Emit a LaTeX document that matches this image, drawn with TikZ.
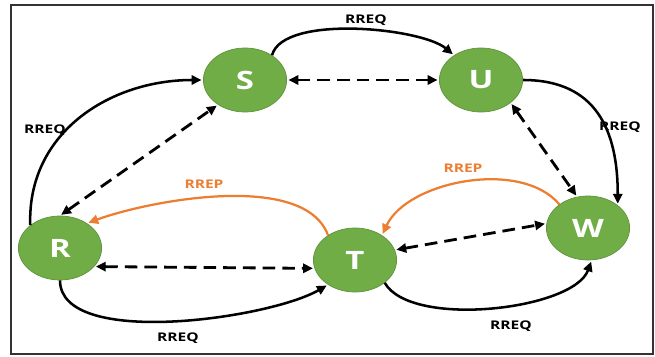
\documentclass[tikz,border=0pt]{standalone}
\usepackage{fontspec}
\setmainfont{Open Sans}
\usetikzlibrary{shapes.geometric, arrows.meta}

\definecolor{hostgreen}{HTML}{70AD47}
\definecolor{reporange}{HTML}{ED7D31}

\begin{document}
\begin{tikzpicture}[x=0.025cm, y=0.025cm,
    host/.style={circle, minimum size=1.6cm, inner sep=0pt, xscale=1.3,
        fill=hostgreen, draw=hostgreen!85!black, line width=0.5pt,
        text=white, font=\fontsize{18}{20}\selectfont\bfseries},
    msg/.style={inner sep=0pt, xscale=1.3, font=\fontsize{8.5}{10}\selectfont\bfseries},
    req/.style={line width=1.8pt, shorten >=1pt, -{Triangle[length=7pt,width=6.5pt]}},
    rep/.style={req, draw=reporange, -{Triangle[length=7pt,width=6.5pt]}, line width=1.6pt},
    link/.style={line width=2pt, dash pattern=on 9pt off 5pt, shorten >=1pt, shorten <=1pt,
        {Triangle[length=7pt,width=6.5pt]}-{Triangle[length=7pt,width=6.5pt]}}]
    \useasboundingbox (0,0) rectangle (655,356);

    % 1. Frame
    \draw[line width=1.2pt, black!80] (11,2) rectangle (653,351);

    % 2. Hosts
    \node[host] (S) at (245,276) {S};
    \node[host] (U) at (481,276) {U};
    \node[host] (R) at (60,108) {R};
    \node[host] (T) at (355,96) {T};
    \node[host] (W) at (588,128) {W};

    % 3. Route requests (solid)
    \draw[req] (R.135) to[out=92, in=180, looseness=1.05] (S.west);
    \draw[req] (S.50) to[out=75, in=140, looseness=0.6] (U.130);
    \draw[req] (U.east) to[out=0, in=90, looseness=1.2] (W.45);
    \draw[req] (R.south) to[out=-90, in=-150, looseness=0.65] (T.-130);
    \draw[req] (T.-45) to[out=-60, in=-110, looseness=0.65] (W.-85);

    % 4. Route replies (orange)
    \draw[rep] (T.130) to[out=110, in=20, looseness=0.72] (R.50);
    \draw[rep] (W.133) to[out=130, in=65, looseness=0.85] (T.50);

    % 5. Neighbour links (dashed, both ways)
    \draw[link] (S.east) -- (U.west);
    \draw[link] (R.north) -- (S.-130);
    \draw[link] (U.-45) -- (W.105);
    \draw[link] (R.-35) -- (T.195);
    \draw[link] (T.18) -- (W.172);

    % 6. Labels
    \node[msg] (q1) at (366,336) {RREQ};
    \node[msg] (q2) at (45,226) {RREQ};
    \node[msg] (q3) at (620,229) {RREQ};
    \node[msg] (q4) at (178,18) {RREQ};
    \node[msg] (q5) at (511,30) {RREQ};
    \node[msg, text=reporange] (p1) at (204,172) {RREP};
    \node[msg, text=reporange] (p2) at (463,188) {RREP};
\end{tikzpicture}
\end{document}
